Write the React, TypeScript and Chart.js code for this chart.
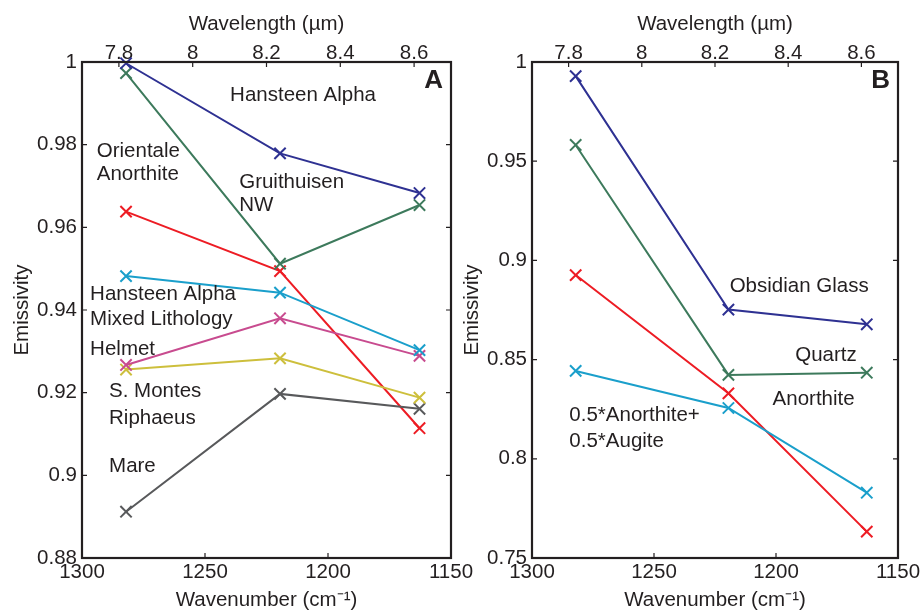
import React, { useEffect, useRef } from 'react';
import { Chart, registerables } from 'chart.js';

Chart.register(...registerables);

// ---------- data ----------
const wavenumbers = [1282.1, 1219.5, 1162.8];
const wavelengthTicks = [7.8, 8, 8.2, 8.4, 8.6];
const wavenumberTicks = [1300, 1250, 1200, 1150];
const yTicksA = [0.88, 0.9, 0.92, 0.94, 0.96, 0.98, 1];
const yTicksB = [0.75, 0.8, 0.85, 0.9, 0.95, 1];

// Panel A (lunar sites)
const hansteenAlpha = [0.9997, 0.9779, 0.9683];
const gruithuisenNW = [0.9973, 0.9512, 0.9654];
const orientaleAnorthite = [0.9638, 0.9494, 0.9114];
const hansteenMixed = [0.9482, 0.9442, 0.9303];
const helmet = [0.9267, 0.938, 0.9289];
const sMontesRiphaeus = [0.9256, 0.9283, 0.9188];
const mare = [0.8912, 0.9197, 0.9161];

// Panel B (lab spectra)
const obsidianGlass = [0.9929, 0.8752, 0.8678];
const quartz = [0.9582, 0.8423, 0.8434];
const anorthite = [0.8926, 0.833, 0.7633];
const anorthiteAugite = [0.8443, 0.8256, 0.7829];

const NAVY = '#2e3192';
const GREEN = '#3d7a5c';
const RED = '#ed1c24';
const CYAN = '#1a9fcb';
const MAGENTA = '#c84b8f';
const YELLOW = '#cdbf3c';
const GRAY = '#58595b';
const INK = '#231f20';
const FAMILY = '"Liberation Sans", Arial, Helvetica, sans-serif';
const FONT_SIZE = 20.5;

const notesA = [
  { text: 'Hansteen Alpha', x: 1239.8, y: 0.992 },
  { text: 'Orientale', x: 1294, y: 0.9783 },
  { text: 'Anorthite', x: 1294, y: 0.9727 },
  { text: 'Gruithuisen', x: 1236.1, y: 0.971 },
  { text: 'NW', x: 1236.1, y: 0.9654 },
  { text: 'Hansteen Alpha', x: 1296.7, y: 0.9439 },
  { text: 'Mixed Lithology', x: 1296.7, y: 0.9378 },
  { text: 'Helmet', x: 1296.7, y: 0.9305 },
  { text: 'S. Montes', x: 1289, y: 0.9202 },
  { text: 'Riphaeus', x: 1289, y: 0.9138 },
  { text: 'Mare', x: 1289, y: 0.9021 },
];

const notesB = [
  { text: 'Obsidian Glass', x: 1219, y: 0.8867 },
  { text: 'Quartz', x: 1192.1, y: 0.8523 },
  { text: 'Anorthite', x: 1201.4, y: 0.8301 },
  { text: '0.5*Anorthite+', x: 1284.7, y: 0.8217 },
  { text: '0.5*Augite', x: 1284.7, y: 0.8086 },
];

// ---------- plugins ----------
const framePlugin = {
  id: 'frame',
  afterDatasetsDraw(chart: any, _args: any, opts: any) {
    const { ctx, chartArea: a, scales } = chart;
    ctx.save();
    ctx.strokeStyle = INK;
    ctx.lineWidth = 1.2;
    const tl = 5;
    ctx.beginPath();
    for (const t of scales.y.ticks) {
      const py = scales.y.getPixelForValue(t.value);
      ctx.moveTo(a.left, py);
      ctx.lineTo(a.left + tl, py);
      ctx.moveTo(a.right, py);
      ctx.lineTo(a.right - tl, py);
    }
    for (const t of scales.x.ticks) {
      const px = scales.x.getPixelForValue(t.value);
      ctx.moveTo(px, a.bottom);
      ctx.lineTo(px, a.bottom - tl);
    }
    for (const t of scales.x2.ticks) {
      const px = scales.x2.getPixelForValue(t.value);
      ctx.moveTo(px, a.top);
      ctx.lineTo(px, a.top + tl);
    }
    ctx.stroke();
    ctx.lineWidth = 2.2;
    ctx.strokeRect(a.left, a.top, a.right - a.left, a.bottom - a.top);
    // panel letter
    ctx.fillStyle = INK;
    ctx.font = `bold 26px ${FAMILY}`;
    ctx.textAlign = 'right';
    ctx.textBaseline = 'middle';
    ctx.fillText(opts.letter, a.right - 8, a.top + 19);
    ctx.restore();
  },
};

const notesPlugin = {
  id: 'notes',
  afterDraw(chart: any, _args: any, opts: any) {
    const { ctx, scales } = chart;
    ctx.save();
    ctx.fillStyle = INK;
    ctx.font = `${FONT_SIZE}px ${FAMILY}`;
    ctx.textAlign = 'left';
    ctx.textBaseline = 'middle';
    for (const n of opts.items) {
      ctx.fillText(n.text, scales.x.getPixelForValue(n.x), scales.y.getPixelForValue(n.y));
    }
    ctx.restore();
  },
};

type Series = { name: string; values: number[]; color: string };
type Panel = {
  letter: string;
  series: Series[];
  yMin: number;
  yMax: number;
  yTicks: number[];
  yWidth: number;
  yTitlePad: number;
  padRight: number;
  canvasWidth: number;
  left: number;
  z: number;
  notes: { text: string; x: number; y: number }[];
};

const panelA: Panel = {
  letter: 'A',
  series: [
    { name: 'Hansteen Alpha', values: hansteenAlpha, color: NAVY },
    { name: 'Gruithuisen NW', values: gruithuisenNW, color: GREEN },
    { name: 'Hansteen Alpha Mixed Lithology', values: hansteenMixed, color: CYAN },
    { name: 'Helmet', values: helmet, color: MAGENTA },
    { name: 'S. Montes Riphaeus', values: sMontesRiphaeus, color: YELLOW },
    { name: 'Mare', values: mare, color: GRAY },
    { name: 'Orientale Anorthite', values: orientaleAnorthite, color: RED },
  ],
  yMin: 0.88,
  yMax: 1,
  yTicks: yTicksA,
  yWidth: 82,
  yTitlePad: 12,
  padRight: 29,
  canvasWidth: 480,
  left: 0,
  z: 2,
  notes: notesA,
};

const panelB: Panel = {
  letter: 'B',
  series: [
    { name: 'Obsidian Glass', values: obsidianGlass, color: NAVY },
    { name: 'Quartz', values: quartz, color: GREEN },
    { name: '0.5*Anorthite+0.5*Augite', values: anorthiteAugite, color: CYAN },
    { name: 'Anorthite', values: anorthite, color: RED },
  ],
  yMin: 0.75,
  yMax: 1,
  yTicks: yTicksB,
  yWidth: 70,
  yTitlePad: 0,
  padRight: 26,
  canvasWidth: 462,
  left: 462,
  z: 1,
  notes: notesB,
};

function makeConfig(p: Panel): any {
  const tickFont = { family: FAMILY, size: FONT_SIZE, lineHeight: 1 };
  const titleFont = { family: FAMILY, size: FONT_SIZE, lineHeight: 1 };
  const noPad = (s: any) => {
    s.paddingLeft = 0;
    s.paddingRight = 0;
  };
  return {
    type: 'line',
    data: {
      datasets: p.series.map((s) => ({
        label: s.name,
        data: wavenumbers.map((x, i) => ({ x, y: s.values[i] })),
        borderColor: s.color,
        backgroundColor: s.color,
        borderWidth: 2,
        pointStyle: 'crossRot',
        pointRadius: 8,
        pointHoverRadius: 8,
        pointBorderWidth: 2,
        tension: 0,
        fill: false,
        clip: false,
        xAxisID: 'x',
        yAxisID: 'y',
      })),
    },
    options: {
      responsive: false,
      animation: false,
      events: [],
      layout: { padding: { left: 0, right: p.padRight, top: 0, bottom: 0 } },
      plugins: {
        legend: { display: false },
        tooltip: { enabled: false },
        frame: { letter: p.letter },
        notes: { items: p.notes },
      },
      scales: {
        x: {
          type: 'linear',
          position: 'bottom',
          min: 1150,
          max: 1300,
          reverse: true,
          afterBuildTicks: (s: any) => {
            s.ticks = wavenumberTicks.map((v) => ({ value: v }));
          },
          afterFit: (s: any) => {
            s.height = 53;
            noPad(s);
          },
          grid: { display: false, drawTicks: false },
          border: { display: false },
          ticks: {
            font: tickFont,
            color: INK,
            padding: 4,
            maxRotation: 0,
            autoSkip: false,
            callback: (v: any) => String(v),
          },
          title: {
            display: true,
            text: 'Wavenumber (cm\u207B\u00B9)',
            font: titleFont,
            color: INK,
            padding: { top: 0, bottom: 0 },
          },
        },
        x2: {
          type: 'linear',
          position: 'top',
          min: 7.7,
          max: 8.7,
          afterBuildTicks: (s: any) => {
            s.ticks = wavelengthTicks.map((v) => ({ value: v }));
          },
          afterFit: (s: any) => {
            s.height = 62;
            noPad(s);
          },
          grid: { display: false, drawTicks: false },
          border: { display: false },
          ticks: {
            font: tickFont,
            color: INK,
            padding: -2,
            maxRotation: 0,
            autoSkip: false,
            callback: (v: any) => String(parseFloat(Number(v).toFixed(3))),
          },
          title: {
            display: true,
            text: 'Wavelength (\u00B5m)',
            font: titleFont,
            color: INK,
            padding: { top: 14, bottom: 0 },
          },
        },
        y: {
          type: 'linear',
          position: 'left',
          min: p.yMin,
          max: p.yMax,
          afterBuildTicks: (s: any) => {
            s.ticks = p.yTicks.map((v) => ({ value: v }));
          },
          afterFit: (s: any) => {
            s.width = p.yWidth;
          },
          grid: { display: false, drawTicks: false },
          border: { display: false },
          ticks: {
            font: tickFont,
            color: INK,
            padding: 5,
            autoSkip: false,
            callback: (v: any) => String(parseFloat(Number(v).toFixed(3))),
          },
          title: {
            display: true,
            text: 'Emissivity',
            font: titleFont,
            color: INK,
            padding: { top: p.yTitlePad, bottom: 0 },
          },
        },
      },
    },
    plugins: [framePlugin, notesPlugin],
  };
}

function PanelChart({ panel }: { panel: Panel }) {
  const ref = useRef<HTMLCanvasElement | null>(null);
  useEffect(() => {
    if (!ref.current) return;
    const chart = new Chart(ref.current, makeConfig(panel));
    return () => chart.destroy();
  }, [panel]);
  return (
    <canvas
      ref={ref}
      width={panel.canvasWidth}
      height={611}
      style={{
        position: 'absolute',
        left: panel.left,
        top: 0,
        zIndex: panel.z,
        display: 'block',
        width: panel.canvasWidth,
        height: 611,
      }}
    />
  );
}

export default function App() {
  return (
    <div
      style={{
        position: 'absolute',
        left: 0,
        top: 0,
        width: 924,
        height: 611,
        background: '#ffffff',
        overflow: 'hidden',
      }}
    >
      <PanelChart panel={panelB} />
      <PanelChart panel={panelA} />
    </div>
  );
}
